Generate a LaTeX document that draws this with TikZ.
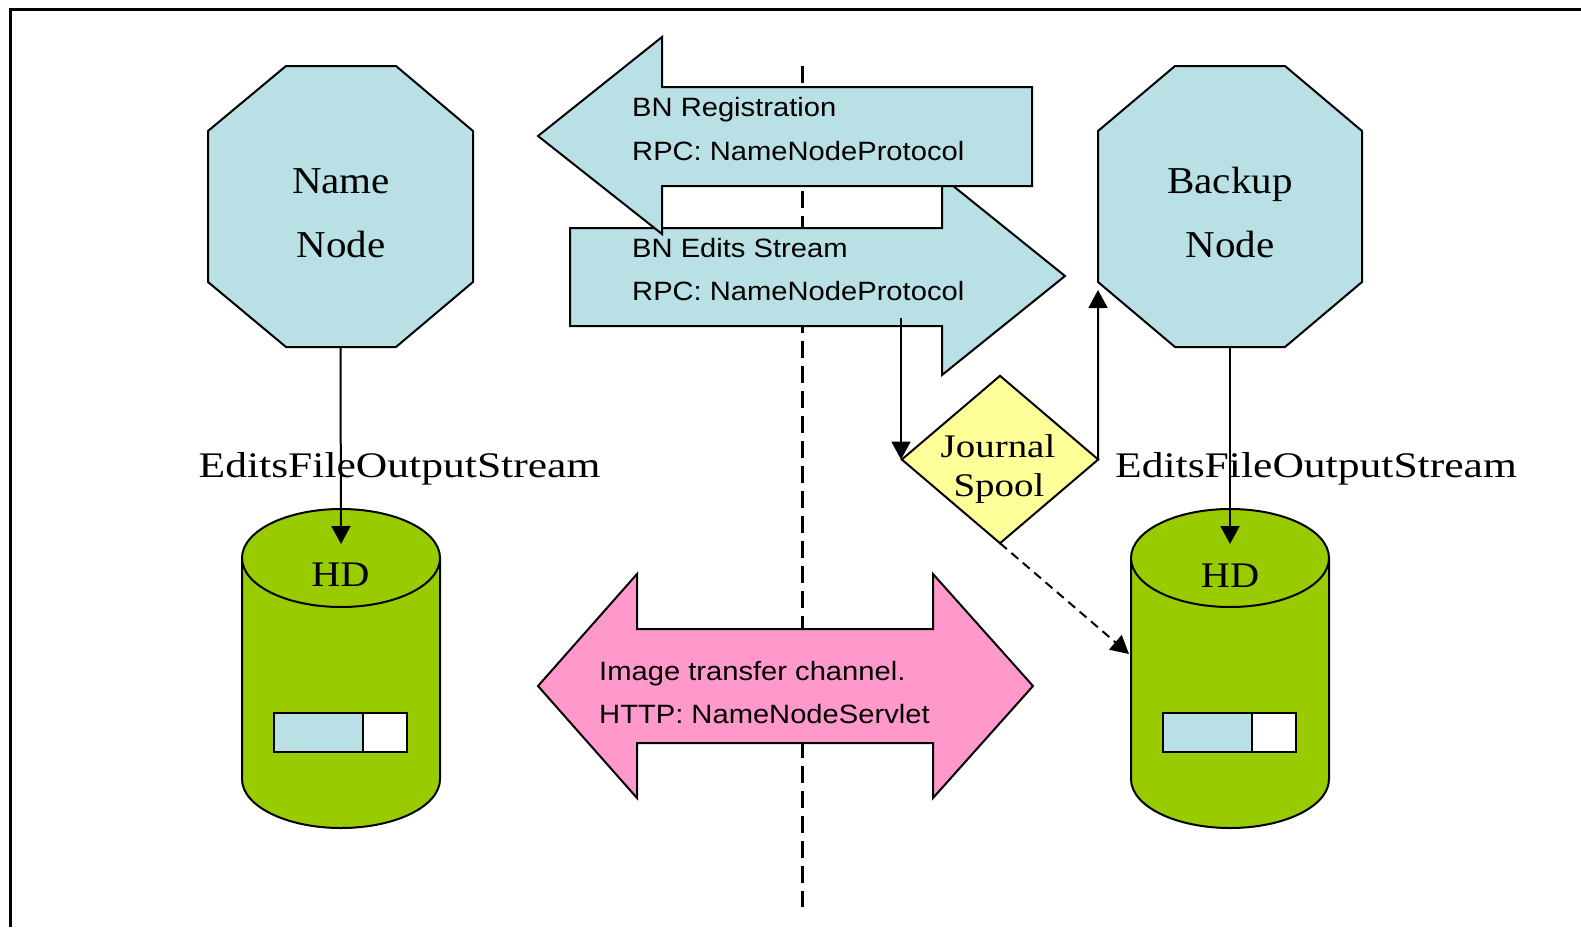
\documentclass[tikz,border=0pt]{standalone}
\usepackage{fontspec}
\usetikzlibrary{arrows.meta}
\setmainfont{Liberation Serif}
\newfontfamily\nodefont[FakeStretch=1.08]{Liberation Serif}
\newfontfamily\editsfont[FakeStretch=1.21]{Liberation Serif}
\newfontfamily\hdfont[FakeStretch=1.12]{Liberation Serif}
\newfontfamily\spoolfont[FakeStretch=1.18]{Liberation Serif}
\newfontfamily\labfont[FakeStretch=1.1]{Liberation Sans}
\definecolor{nodeblue}{RGB}{185,224,228}
\definecolor{chanpink}{RGB}{255,153,204}
\definecolor{diskgreen}{RGB}{153,204,0}
\definecolor{spoolyellow}{RGB}{255,255,153}
\tikzset{
  outline/.style={draw=black, line width=2pt, line join=miter},
  nodetxt/.style={inner sep=0pt, anchor=base, font={\nodefont\fontsize{38}{38}\selectfont}},
  editstxt/.style={inner sep=0pt, anchor=base, font={\editsfont\fontsize{36}{36}\selectfont}},
  hdtxt/.style={inner sep=0pt, anchor=base, font={\hdfont\fontsize{36}{36}\selectfont}},
  spooltxt/.style={inner sep=0pt, anchor=base, font={\spoolfont\fontsize{33}{33}\selectfont}},
  labtxt/.style={inner sep=0pt, anchor=base west, font={\labfont\fontsize{26.5}{26.5}\selectfont}},
  holder/.style={inner sep=0pt, draw=none},
  conn/.style={line width=2pt, -{Triangle[length=18pt,width=19pt]}},
  dconn/.style={conn, dash pattern=on 9pt off 6pt},
}
\begin{document}
\begin{tikzpicture}[x=1pt, y=-1pt]
\useasboundingbox (0,0) rectangle (1581,927);
\fill[white] (0,0) rectangle (1581,927);

% page frame (open to the right and bottom)
\draw[line width=3pt] (10,927) -- (10,9) -- (1581,9);

% dividing line between the two machines
\draw[line width=3pt, dash pattern=on 17pt off 8pt] (802,66) -- (802,907);

% Name Node
\draw[outline, fill=nodeblue] (286,66) -- (396,66) -- (473,131) -- (473,282)
  -- (396,347) -- (286,347) -- (208,282) -- (208,131) -- cycle;
\node[holder, minimum width=265pt, minimum height=281pt] (nn) at (340.5,206.5) {};
\node[nodetxt] (nnA) at (341,193) {Name};
\node[nodetxt] (nnB) at (341,257) {Node};

% Backup Node
\draw[outline, fill=nodeblue] (1175,66) -- (1285,66) -- (1362,131) -- (1362,282)
  -- (1285,347) -- (1175,347) -- (1098,282) -- (1098,131) -- cycle;
\node[holder, minimum width=264pt, minimum height=281pt] (bn) at (1230,206.5) {};
\node[nodetxt] (bnA) at (1230,193) {Backup};
\node[nodetxt] (bnB) at (1230,257) {Node};

% disks
\foreach \cx/\nm in {341/hdl, 1230/hdr}{
  \fill[diskgreen] (\cx-99,558) -- (\cx-99,779)
    arc[start angle=180, end angle=360, x radius=99pt, y radius=49pt] -- (\cx+99,558) -- cycle;
  \draw[line width=2pt] (\cx-99,558) -- (\cx-99,779)
    arc[start angle=180, end angle=360, x radius=99pt, y radius=49pt] -- (\cx+99,558);
  \draw[line width=2pt, fill=diskgreen] (\cx,558) ellipse[x radius=99pt, y radius=49pt];
  \node[holder, minimum width=198pt, minimum height=319pt] (\nm) at (\cx,668.5) {};
  \draw[line width=2.5pt, fill=nodeblue] (\cx-67,713) rectangle (\cx+22,752);
  \draw[line width=2.5pt, fill=white] (\cx+22,713) rectangle (\cx+66,752);
}
\node[hdtxt] (hdlT) at (340.5,586) {HD};
\node[hdtxt] (hdrT) at (1230,587) {HD};

% edits stream arrow (behind the registration arrow)
\draw[outline, fill=nodeblue] (570,228) -- (942,228) -- (942,177) -- (1065,276)
  -- (942,375) -- (942,326) -- (570,326) -- cycle;
\node[labtxt] (ed1) at (632,257) {BN Edits Stream};
\node[labtxt] (ed2) at (632,300) {RPC: NameNodeProtocol};

% registration arrow
\draw[outline, fill=nodeblue] (538,136) -- (662,37) -- (662,87) -- (1032,87)
  -- (1032,186) -- (662,186) -- (662,234) -- cycle;
\node[labtxt] (rg1) at (632,116) {BN Registration};
\node[labtxt] (rg2) at (632,160) {RPC: NameNodeProtocol};

% image transfer channel
\draw[outline, fill=chanpink] (538,686) -- (637,574) -- (637,629) -- (933,629)
  -- (933,574) -- (1033,686) -- (933,798) -- (933,743) -- (637,743) -- (637,798) -- cycle;
\node[labtxt] (im1) at (599,680) {Image transfer channel.};
\node[labtxt] (im2) at (599,723) {HTTP: NameNodeServlet};

% journal spool
\node[holder, minimum width=196pt, minimum height=167pt] (js) at (1000,459.5) {};
\draw[outline, fill=spoolyellow] (js.north) -- (js.east) -- (js.south) -- (js.west) -- cycle;
\node[spooltxt] (jsA) at (998,457) {Journal};
\node[spooltxt] (jsB) at (999,496) {Spool};

% stream labels
\node[editstxt] (efl) at (399.5,477) {EditsFileOutputStream};
\node[editstxt] (efr) at (1316,477) {EditsFileOutputStream};

% connectors
\coordinate (hdlIn) at (341,544);
\coordinate (hdrIn) at (1230,544);
\coordinate (edOut) at (901,318);
\coordinate (bnIn) at (1098,290);
\coordinate (hdrSide) at (1129,654);
\draw[conn] (nn.south) -- (hdlIn);
\draw[conn] (bn.south) -- (hdrIn);
\draw[conn] (edOut) -- (edOut |- js.west);
\draw[conn] (js.east) -- (bnIn);
\draw[dconn] (js.south) -- (hdrSide);
\end{tikzpicture}
\end{document}
